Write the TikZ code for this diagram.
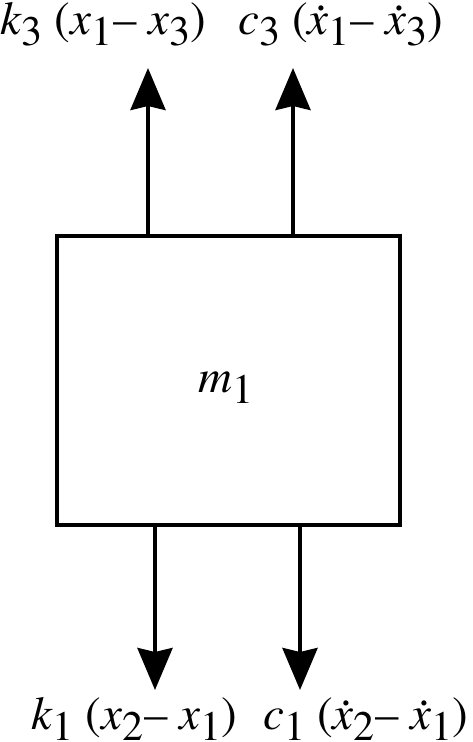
\documentclass[tikz,border=0pt]{standalone}
\usepackage{fontspec}
\setmainfont{texgyretermes}[Extension=.otf,UprightFont=*-regular,ItalicFont=*-italic,BoldFont=*-bold,BoldItalicFont=*-bolditalic]
\usetikzlibrary{arrows.meta}
\newcommand{\sbs}[1]{\raisebox{-0.24em}{\fontsize{42}{42}\selectfont #1}}
\newcommand{\xdt}{\ooalign{\textit{x}\cr\hidewidth\kern0.14em\raisebox{0.5em}{.}\hidewidth\cr}}
\newcommand{\mns}{\kern1pt–\ }
\tikzset{
  massbox/.style={draw, line width=4pt, minimum width=343pt, minimum height=288.5pt, inner sep=0pt},
  lbl/.style={anchor=base, inner sep=0pt, font=\fontsize{47}{47}\selectfont},
  force/.style={line width=4pt, -{Stealth[length=42pt,width=35pt,inset=4pt]}}
}
\begin{document}
\begin{tikzpicture}[x=1pt,y=-1pt]
\useasboundingbox (0,0) rectangle (472,742);
\node[massbox] (m) at (228.5,380.25) {};
\node[lbl] (mlab) at (226,392) {\textit{m}\kern1pt\sbs{1}};
\node[lbl] (t1) at (103,34) {\textit{k}\sbs{3} (\textit{x}\sbs{1}\mns\textit{x}\sbs{3})};
\node[lbl] (t2) at (341,34) {\textit{c}\sbs{3} (\xdt\sbs{1}\mns\xdt\sbs{3})};
\node[lbl] (b1) at (134,729) {\textit{k}\sbs{1} (\textit{x}\sbs{2}\mns\textit{x}\sbs{1})};
\node[lbl] (b2) at (366,729) {\textit{c}\sbs{1} (\xdt\sbs{2}\mns\xdt\sbs{1})};
\coordinate (u1) at (148,68);
\coordinate (u2) at (293,68);
\coordinate (d1) at (155,690);
\coordinate (d2) at (300,690);
\draw[force] (m.north -| u1) -- (u1);
\draw[force] (m.north -| u2) -- (u2);
\draw[force] (m.south -| d1) -- (d1);
\draw[force] (m.south -| d2) -- (d2);
\end{tikzpicture}
\end{document}
